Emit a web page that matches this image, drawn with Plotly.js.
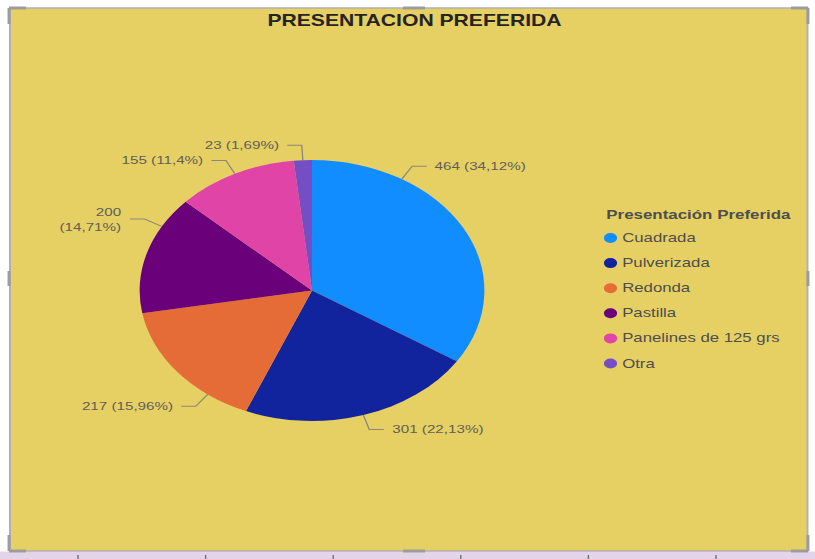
<!DOCTYPE html>
<html><head><meta charset="utf-8">
<script src="https://cdn.plot.ly/plotly-3.0.1.min.js"></script>
<style>
html,body{margin:0;padding:0;width:815px;height:559px;overflow:hidden;background:#ffffff;}
#wrap{position:absolute;left:0;top:0;width:617px;height:559px;transform:scaleX(1.32091);transform-origin:0 0;}
#chart{width:617px;height:559px;}
</style></head><body>
<div id="wrap"><div id="chart"></div></div>
<script>
// ---- data ----
const categories = ['Cuadrada', 'Pulverizada', 'Redonda', 'Pastilla', 'Panelines de 125 grs', 'Otra'];
const counts = [464, 301, 217, 200, 155, 23];
const chartTitle = 'PRESENTACION PREFERIDA';
const legendTitle = 'Presentación Preferida';

// ---- style ----
const sliceColors = ['#118DFF', '#12239E', '#E66C37', '#6B007B', '#E044A7', '#744EC2'];
const labelAngleShift = [-30, 0, -14, 13, 0, 0]; // degrees, label placement tweak
const W = 617, H = 559, S = 815 / 617;
const panelColor = '#E6D064';
const textGray = '#615f58';
const lineGray = '#8a8878';
const fontFam = 'Liberation Sans, Arial, sans-serif';

// helpers
const PX = x => x / W;          // unscaled px -> paper
const PY = y => 1 - y / H;
const RX = x => x / S / W;      // reference (scaled) px -> paper

// pie geometry (unscaled px)
const cx = 312 / S, cy = 290.5, R = 130.5;

const total = counts.reduce((a, b) => a + b, 0);
function fmtPct(v) {
  let s = (v / total * 100).toFixed(2);
  s = s.replace(/0+$/, '').replace(/\.$/, '');
  return s.replace('.', ',') + '%';
}

const shapes = [];
const annotations = [];

// panel background & chrome
shapes.push({type: 'rect', xref: 'paper', yref: 'paper', x0: 0, x1: 1, y0: PY(559), y1: PY(551.5),
  fillcolor: '#E4D4E9', line: {width: 0}, layer: 'below'});
for (let k = 0; k < 6; k++) {
  const tx = 78 + 127.6 * k;
  shapes.push({type: 'line', xref: 'paper', yref: 'paper', x0: RX(tx), x1: RX(tx), y0: PY(555), y1: PY(559),
    line: {color: '#6a6a6a', width: 1}, layer: 'below'});
}
shapes.push({type: 'rect', xref: 'paper', yref: 'paper', x0: RX(10), x1: RX(807.5), y0: PY(551), y1: PY(8),
  fillcolor: panelColor, line: {color: '#b0b0b0', width: 1.5}, layer: 'below'});
const handle = '#9c9c9c';
function seg(x0, y0, x1, y1, w) {
  shapes.push({type: 'line', xref: 'paper', yref: 'paper', x0: RX(x0), x1: RX(x1), y0: PY(y0), y1: PY(y1),
    line: {color: handle, width: w}, layer: 'below'});
}
seg(9, 8, 26, 8, 3); seg(9, 8, 9, 24, 2.2);
seg(791, 8, 808, 8, 3); seg(808, 8, 808, 24, 2.2);
seg(9, 551, 26, 551, 3); seg(9, 535, 9, 551, 2.2);
seg(791, 551, 808, 551, 3); seg(808, 535, 808, 551, 2.2);
seg(403, 8, 425, 8, 3); seg(403, 551, 425, 551, 3);
seg(9, 271, 9, 286, 2.2); seg(808, 271, 808, 286, 2.2);

// data labels with leader lines
let cum = 0;
counts.forEach((v, i) => {
  const frac = v / total;
  const midDeg = (cum + frac / 2) * 360 + labelAngleShift[i];
  cum += frac;
  const t = midDeg * Math.PI / 180;
  const sx = Math.sin(t), sy = -Math.cos(t);
  const ax = cx + R * sx, ay = cy + R * sy;
  const ext = 15;
  const ex = ax + ext * sx, ey = ay + ext * sy;
  const dir = sx >= 0 ? 1 : -1;
  const hx = ex + dir * 11;
  const txtX = hx + dir * 4;
  let label = v + ' (' + fmtPct(v) + ')';
  const estW = label.length * 6.1;
  if (dir < 0 && txtX - estW < RX(10) * W + 35) label = v + '<br>(' + fmtPct(v) + ')';
  shapes.push({type: 'path', xref: 'paper', yref: 'paper',
    path: `M ${PX(ax)},${PY(ay)} L ${PX(ex)},${PY(ey)} L ${PX(hx)},${PY(ey)}`,
    line: {color: lineGray, width: 1}});
  annotations.push({xref: 'paper', yref: 'paper', x: PX(txtX), y: PY(ey),
    xanchor: dir > 0 ? 'left' : 'right', yanchor: 'middle', align: dir > 0 ? 'left' : 'right',
    showarrow: false, text: label, font: {family: fontFam, size: 11.5, color: textGray}});
});

// legend (custom, to match the tight Power BI layout)
const legX = 603 / S, legTitleY = 214, legY0 = 238, legStep = 25.1;
annotations.push({xref: 'paper', yref: 'paper', x: PX(legX), y: PY(legTitleY), xanchor: 'left', yanchor: 'middle',
  showarrow: false, text: legendTitle, font: {family: fontFam, size: 12.8, color: '#4e4e4e', weight: 'bold'}});
categories.forEach((c, i) => {
  const yy = legY0 + i * legStep;
  const mcx = 610.5 / S;
  shapes.push({type: 'circle', xref: 'paper', yref: 'paper', x0: PX(mcx - 5), x1: PX(mcx + 5),
    y0: PY(yy + 5), y1: PY(yy - 5), fillcolor: sliceColors[i], line: {width: 0}});
  annotations.push({xref: 'paper', yref: 'paper', x: PX(619.5 / S), y: PY(yy), xanchor: 'left', yanchor: 'middle',
    showarrow: false, text: c, font: {family: fontFam, size: 12.7, color: '#4e4e4e'}});
});

const trace = {
  type: 'pie',
  labels: categories,
  values: counts,
  sort: false,
  direction: 'clockwise',
  rotation: 0,
  textinfo: 'none',
  hoverinfo: 'label+value+percent',
  marker: {colors: sliceColors, line: {width: 0}},
  showlegend: false,
  domain: {x: [(cx - R) / W, (cx + R) / W], y: [(H - cy - R) / H, (H - cy + R) / H]}
};

const layout = {
  width: W, height: H, autosize: false,
  margin: {l: 0, r: 0, t: 0, b: 0},
  paper_bgcolor: '#ffffff',
  separators: ',.',
  showlegend: false,
  title: {text: chartTitle, x: RX(414.5), xanchor: 'center', y: PY(20.5), yanchor: 'middle',
    font: {family: fontFam, size: 16, color: '#252423', weight: 'bold'}},
  shapes: shapes,
  annotations: annotations
};

Plotly.newPlot('chart', [trace], layout, {displayModeBar: false, responsive: false});
</script>
</body></html>
